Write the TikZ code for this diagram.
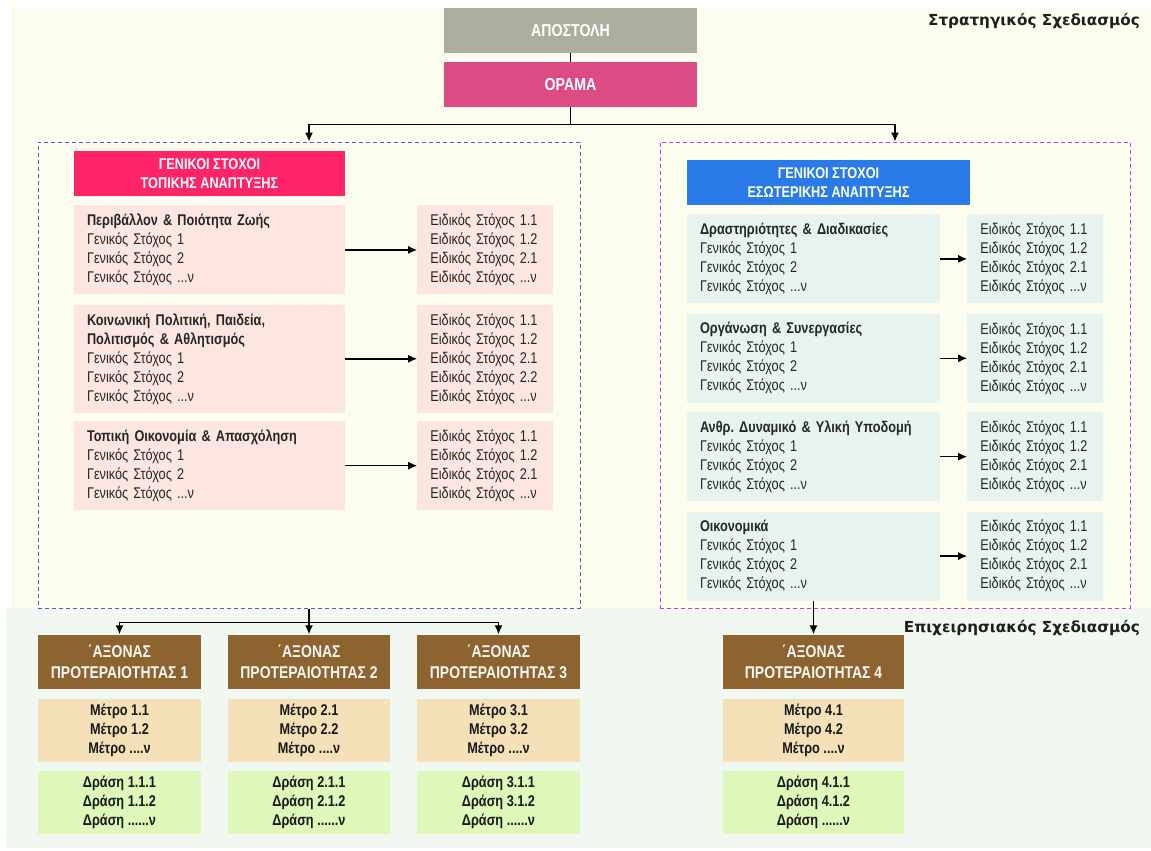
\documentclass[tikz,border=0pt]{standalone}
\usepackage{fontspec}
\setmainfont{Liberation Sans}[FakeStretch=0.82]
\newfontfamily\secfont{DejaVu Sans}
\usepackage{tikz}
\usetikzlibrary{shapes,arrows,arrows.meta,positioning}
\definecolor{bgtop}{RGB}{253,253,239}
\definecolor{bgbot}{RGB}{241,248,242}
\definecolor{apostgray}{RGB}{174,174,158}
\definecolor{oramapink}{RGB}{220,75,132}
\definecolor{lochot}{RGB}{255,36,104}
\definecolor{intblue}{RGB}{42,123,232}
\definecolor{pinkbox}{RGB}{253,230,224}
\definecolor{mintbox}{RGB}{230,243,238}
\definecolor{axbrown}{RGB}{141,99,48}
\definecolor{metrobox}{RGB}{244,225,183}
\definecolor{drasibox}{RGB}{221,248,184}
\definecolor{dashblue}{RGB}{91,91,176}
\definecolor{dashmag}{RGB}{200,59,220}
\frenchspacing
\newcommand{\boxfont}{\fontsize{15.5}{19}\selectfont}
\tikzstyle{topbox} = [rectangle, text=white, inner sep=0pt,
    minimum width=253pt, minimum height=45pt,
    font=\fontsize{17.3}{20}\selectfont\bfseries]
\tikzstyle{head} = [rectangle, text=white, inner sep=0pt, align=center,
    minimum height=45pt, font=\boxfont\bfseries]
\tikzstyle{group} = [rectangle, draw, line width=1pt,
    dash pattern=on 4pt off 3pt, minimum height=466pt]
\tikzstyle{goal} = [rectangle, text=black!85, align=left, inner xsep=13pt,
    inner ysep=0pt, minimum height=89pt, font=\boxfont]
\tikzstyle{locgoal} = [goal, fill=pinkbox, text width=245pt]
\tikzstyle{intgoal} = [goal, fill=mintbox, text width=227pt]
\tikzstyle{spec} = [goal, text width=110pt]
\tikzstyle{axis} = [rectangle, fill=axbrown, text=white!95!axbrown, align=center,
    inner sep=0pt, minimum height=54pt, font=\fontsize{17}{21}\selectfont\bfseries]
\tikzstyle{metro} = [rectangle, fill=metrobox, text=black!90, align=center,
    inner sep=0pt, minimum height=63pt, font=\boxfont\bfseries]
\tikzstyle{drasi} = [metro, fill=drasibox]
\tikzstyle{seclabel} = [text=black!88, inner sep=0pt,
    font=\secfont\fontsize{15.2}{18}\selectfont\bfseries]
\tikzstyle{arrow} = [draw, line width=1.4pt, -{Latex[length=9pt,width=8pt]}]
\tikzstyle{line} = [draw, line width=1pt]

\begin{document}
\begin{tikzpicture}[x=1pt, y=-1pt]
    \useasboundingbox (0,0) rectangle (1151,851);
    \fill[bgtop] (10,8) rectangle (1151,608);
    \fill[bgbot] (6,608) rectangle (1151,848);
    \node[seclabel, anchor=base east] (strat) at (1140,26) {Στρατηγικός Σχεδιασμός};
    \node[seclabel, anchor=base east] (oper) at (1140,632) {Επιχειρησιακός Σχεδιασμός};

    \node[topbox, fill=apostgray] (apost) at (570.5,30.5) {ΑΠΟΣΤΟΛΗ};
    \node[topbox, fill=oramapink] (orama) at (570.5,84.5) {ΟΡΑΜΑ};

    \node[group, draw=dashblue, minimum width=542pt] (locgrp) at (309,375) {};
    \node[group, draw=dashmag, minimum width=470pt] (intgrp) at (895,375) {};

    % local development
    \node[head, fill=lochot, minimum width=271pt] (lochead) at (209.5,173.5)
        {ΓΕΝΙΚΟΙ ΣΤΟΧΟΙ\\ΤΟΠΙΚΗΣ ΑΝΑΠΤΥΞΗΣ};
    \node[locgoal, below=9pt of lochead] (loc1)
        {\textbf{Περιβάλλον \& Ποιότητα Ζωής}\\Γενικός Στόχος 1\\Γενικός Στόχος 2\\Γενικός Στόχος ...ν};
    \node[locgoal, below=10pt of loc1, minimum height=108pt] (loc2)
        {\textbf{Κοινωνική Πολιτική, Παιδεία,}\\\textbf{Πολιτισμός \& Αθλητισμός}\\Γενικός Στόχος 1\\Γενικός Στόχος 2\\Γενικός Στόχος ...ν};
    \node[locgoal, below=8pt of loc2] (loc3)
        {\textbf{Τοπική Οικονομία \& Απασχόληση}\\Γενικός Στόχος 1\\Γενικός Στόχος 2\\Γενικός Στόχος ...ν};
    \node[spec, fill=pinkbox, right=72pt of loc1] (locs1)
        {Ειδικός Στόχος 1.1\\Ειδικός Στόχος 1.2\\Ειδικός Στόχος 2.1\\Ειδικός Στόχος ...ν};
    \node[spec, fill=pinkbox, right=72pt of loc2, minimum height=108pt] (locs2)
        {Ειδικός Στόχος 1.1\\Ειδικός Στόχος 1.2\\Ειδικός Στόχος 2.1\\Ειδικός Στόχος 2.2\\Ειδικός Στόχος ...ν};
    \node[spec, fill=pinkbox, right=72pt of loc3] (locs3)
        {Ειδικός Στόχος 1.1\\Ειδικός Στόχος 1.2\\Ειδικός Στόχος 2.1\\Ειδικός Στόχος ...ν};

    % internal development
    \node[head, fill=intblue, minimum width=283pt] (inthead) at (828.5,182.5)
        {ΓΕΝΙΚΟΙ ΣΤΟΧΟΙ\\ΕΣΩΤΕΡΙΚΗΣ ΑΝΑΠΤΥΞΗΣ};
    \node[intgoal, below=9pt of inthead.south west, anchor=north west] (int1)
        {\textbf{Δραστηριότητες \& Διαδικασίες}\\Γενικός Στόχος 1\\Γενικός Στόχος 2\\Γενικός Στόχος ...ν};
    \node[intgoal, below=10pt of int1] (int2)
        {\textbf{Οργάνωση \& Συνεργασίες}\\Γενικός Στόχος 1\\Γενικός Στόχος 2\\Γενικός Στόχος ...ν};
    \node[intgoal, below=9pt of int2] (int3)
        {\textbf{Ανθρ. Δυναμικό \& Υλική Υποδομή}\\Γενικός Στόχος 1\\Γενικός Στόχος 2\\Γενικός Στόχος ...ν};
    \node[intgoal, below=10pt of int3] (oik)
        {\textbf{Οικονομικά}\\Γενικός Στόχος 1\\Γενικός Στόχος 2\\Γενικός Στόχος ...ν};
    \foreach \g in {int1,int2,int3,oik}
        \node[spec, fill=mintbox, right=27pt of \g] (\g s)
            {Ειδικός Στόχος 1.1\\Ειδικός Στόχος 1.2\\Ειδικός Στόχος 2.1\\Ειδικός Στόχος ...ν};

    % priority axes
    \foreach \n/\x/\w in {1/119.5/163, 2/309/162, 3/498.5/163, 4/813.5/181} {
        \node[axis, minimum width=\w pt] (ax\n) at (\x,661.5) {΄ΑΞΟΝΑΣ\\ΠΡΟΤΕΡΑΙΟΤΗΤΑΣ \n};
        \node[metro, below=10pt of ax\n, minimum width=\w pt] (met\n)
            {Μέτρο \n.1\\Μέτρο \n.2\\Μέτρο ....ν};
        \node[drasi, below=9pt of met\n, minimum width=\w pt] (dra\n)
            {Δράση \n.1.1\\Δράση \n.1.2\\Δράση ......ν};
    }

    % connectors
    \draw[line] (apost) -- (orama);
    \draw[arrow] (orama.south) -- ++(0,17) -| (locgrp.north);
    \draw[arrow] (orama.south) -- ++(0,17) -| (intgrp.north);
    \foreach \g in {1,2,3}
        \draw[arrow] (loc\g) -- (locs\g);
    \foreach \g in {int1,int2,int3,oik}
        \draw[arrow] (\g) -- (\g s);
    \draw[arrow] (locgrp.south) -- ++(0,14) -| (ax1.north);
    \draw[arrow] (locgrp.south) -- (ax2.north);
    \draw[arrow] (locgrp.south) -- ++(0,14) -| (ax3.north);
    \draw[arrow] (oik.south) -- (ax4.north);
\end{tikzpicture}
\end{document}
